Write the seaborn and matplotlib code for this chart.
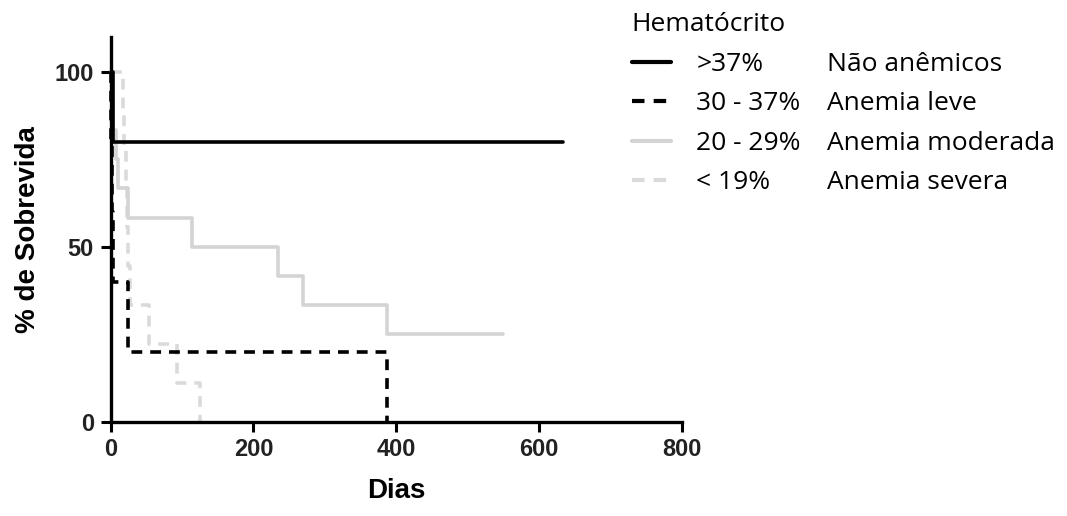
"""
Kaplan-Meier style survival curves by hematocrit group
"""
import matplotlib
matplotlib.use("Agg")
import matplotlib.pyplot as plt
import seaborn as sns
import pandas as pd
from matplotlib.lines import Line2D

# ========== Data ==========
groups = [">37%", "30 - 37%", "20 - 29%", "< 19%"]
descriptions = ["Não anêmicos", "Anemia leve", "Anemia moderada", "Anemia severa"]

dias_nao_anemicos = [0, 3, 633]
surv_nao_anemicos = [100, 80, 80]

dias_leve = [0, 1, 2, 3, 25, 387]
surv_leve = [100, 80, 60, 40, 20, 0]

dias_moderada = [0, 2, 4, 7, 10, 25, 114, 235, 270, 387, 550]
surv_moderada = [100, 91.7, 83.3, 75, 66.7, 58.3, 50, 41.7, 33.3, 25, 25]

dias_severa = [0, 17, 19, 21, 23, 25, 27, 54, 93, 125]
surv_severa = [100, 88.9, 77.8, 66.7, 55.6, 44.4, 33.3, 22.2, 11.1, 0]

x_ticks = [0, 200, 400, 600, 800]
y_ticks = [0, 50, 100]

series = [
    (dias_nao_anemicos, surv_nao_anemicos),
    (dias_leve, surv_leve),
    (dias_moderada, surv_moderada),
    (dias_severa, surv_severa),
]
colors = ["black", "black", "#d4d4d4", "#dadada"]
styles = ["-", (0, (3, 2.2)), "-", (0, (3, 2.2))]

# ========== Plot ==========
sns.set_style("ticks")
plt.rcParams["font.family"] = ["Liberation Sans", "DejaVu Sans"]
plt.rcParams["text.color"] = "black"

fig = plt.figure(figsize=(10.67, 5.16), dpi=100)
ax = fig.add_axes([0.1036, 0.1828, 0.5355, 0.7455])

# draw gray curves first so black ones stay on top
order = [3, 2, 1, 0]
for i in order:
    dias, surv = series[i]
    df = pd.DataFrame({"Dias": dias, "Sobrevida": surv})
    sns.lineplot(data=df, x="Dias", y="Sobrevida", ax=ax, estimator=None,
                 sort=False, drawstyle="steps-post", color=colors[i],
                 linestyle=styles[i], linewidth=2.6, clip_on=False)

ax.set_xlim(0, 800)
ax.set_ylim(0, 110)
ax.set_xticks(x_ticks)
ax.set_yticks(y_ticks)
ax.tick_params(axis="both", length=7, width=2.2, labelsize=17, colors="black", pad=5)
for lab in ax.get_xticklabels() + ax.get_yticklabels():
    lab.set_fontweight("bold")
    lab.set_color("#222222")
for s in ["left", "bottom"]:
    ax.spines[s].set_linewidth(2.4)
    ax.spines[s].set_color("black")
sns.despine(ax=ax)

ax.set_xlabel("Dias", fontsize=20, fontweight="bold", labelpad=12, color="black")
ax.set_ylabel("% de Sobrevida", fontsize=20, fontweight="bold", labelpad=10, color="black")

# ========== Legend (two columns: range + description) ==========
handles = [Line2D([], [], color=colors[i], linestyle=styles[i], linewidth=3) for i in range(4)]
leg_font = {"family": ["Open Sans", "DejaVu Sans"], "size": 19}
leg_kw = dict(loc="upper left", frameon=False, alignment="left",
              prop=leg_font, title_fontproperties=leg_font,
              borderpad=0, borderaxespad=0, labelspacing=0.55,
              labelcolor="black")
leg1 = fig.legend(handles, groups, bbox_to_anchor=(0.592, 0.976),
                  title="Hematócrito", handlelength=1.5, handletextpad=0.95, **leg_kw)
blank = [Line2D([], [], color="none") for _ in descriptions]
leg2 = fig.legend(blank, descriptions, bbox_to_anchor=(0.775, 0.976),
                  title=" ", handlelength=0, handletextpad=0, **leg_kw)
leg1.get_title().set_color("black")

plt.savefig("out.png", dpi=100)
plt.close()
